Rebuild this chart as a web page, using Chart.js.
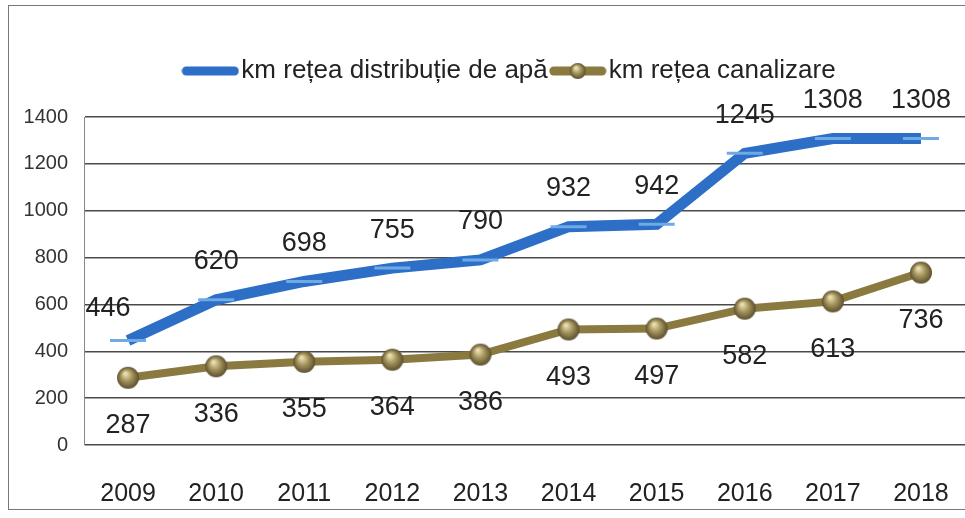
<!DOCTYPE html>
<html lang="ro">
<head>
<meta charset="UTF-8">
<title>Rețele apă și canalizare</title>
<script src="https://cdn.jsdelivr.net/npm/chart.js"></script>
<style>
    html, body { margin: 0; padding: 0; background: #fff; }
    #frame {
        position: absolute; left: 8px; top: 5px;
        width: 957px; height: 505px;
        border: 1px solid #777; border-right: none;
        box-sizing: border-box;
    }
    #chart { display: block; }
</style>
</head>
<body>
<div id="frame"><canvas id="chart" width="956" height="503"></canvas></div>
<script>
    // values
    var years = ['2009', '2010', '2011', '2012', '2013', '2014', '2015', '2016', '2017', '2018'];
    var apa = [446, 620, 698, 755, 790, 932, 942, 1245, 1308, 1308];
    var canalizare = [287, 336, 355, 364, 386, 493, 497, 582, 613, 736];
    var seriesNames = ['km rețea distribuție de apă', 'km rețea canalizare'];
    var yTicks = [0, 200, 400, 600, 800, 1000, 1200, 1400];

    var FONT = 'Liberation Sans, Arial, sans-serif';
    var BLUE = '#2d6fc6';
    var BROWN = '#8a7a40';

    // little shaded ball for the sewer series
    function drawBall(g, cx, cy, r) {
        var grad = g.createRadialGradient(cx - r * 0.25, cy - r * 0.4, 1, cx, cy, r);
        grad.addColorStop(0, '#eadfb4');
        grad.addColorStop(0.45, '#a8975f');
        grad.addColorStop(1, '#5b4f2e');
        g.fillStyle = grad;
        g.beginPath();
        g.arc(cx, cy, r, 0, Math.PI * 2);
        g.fill();
    }
    function makeBall(r) {
        var c = document.createElement('canvas');
        c.width = c.height = r * 2 + 2;
        drawBall(c.getContext('2d'), r + 1, r + 1, r);
        return c;
    }
    // legend swatches: a thick rounded line, brown one with a ball
    function makeSwatch(color, withBall) {
        var c = document.createElement('canvas');
        c.width = 58; c.height = 22;
        var g = c.getContext('2d');
        g.strokeStyle = color;
        g.lineWidth = 9;
        g.lineCap = 'round';
        g.beginPath();
        g.moveTo(5, 11); g.lineTo(53, 11);
        g.stroke();
        if (withBall) drawBall(g, 29, 11, 8);
        return c;
    }
    var ball = makeBall(11);
    var swatches = [makeSwatch(BLUE, false), makeSwatch(BROWN, true)];

    // value labels: water above, sewer below
    var valueLabels = {
        id: 'valueLabels',
        afterDatasetsDraw: function (chart) {
            var ctx = chart.ctx;
            ctx.save();
            ctx.font = '27px ' + FONT;
            ctx.fillStyle = '#222';
            ctx.textAlign = 'center';
            ctx.textBaseline = 'middle';
            chart.data.datasets.forEach(function (ds, di) {
                var meta = chart.getDatasetMeta(di);
                meta.data.forEach(function (pt, i) {
                    var dy = di === 0 ? -38 : 48;
                    var dx = (di === 0 && i === 0) ? -20 : 0;
                    if (di === 0 && i === 0) dy = -32;
                    ctx.fillText(String(ds.data[i]), pt.x + dx, pt.y + dy);
                });
            });
            ctx.restore();
        }
    };

    // legend: extra room below it, and nudged right like the original
    var legendTweak = {
        id: 'legendTweak',
        beforeInit: function (chart) {
            var fit = chart.legend.fit;
            chart.legend.fit = function () {
                fit.bind(chart.legend)();
                this.height += 23;
            };
        },
        afterLayout: function (chart) {
            chart.legend.left += 27;
            chart.legend.right += 27;
        }
    };

    new Chart(document.getElementById('chart'), {
        type: 'line',
        data: {
            labels: years,
            datasets: [{
                label: seriesNames[0],
                data: apa,
                borderColor: BLUE,
                backgroundColor: BLUE,
                borderWidth: 11,
                tension: 0,
                pointStyle: 'line',
                pointRadius: 18,
                pointBorderColor: '#6fa9e6',
                pointBorderWidth: 3,
                pointHoverRadius: 18
            }, {
                label: seriesNames[1],
                data: canalizare,
                borderColor: BROWN,
                backgroundColor: BROWN,
                borderWidth: 8,
                tension: 0,
                pointStyle: ball,
                pointRadius: 11
            }]
        },
        options: {
            responsive: false,
            animation: false,
            layout: { autoPadding: false, padding: { top: 40, left: 0, right: 0, bottom: 0 } },
            plugins: {
                tooltip: { enabled: false },
                legend: {
                    position: 'top',
                    labels: {
                        font: { family: FONT, size: 26 },
                        color: '#222',
                        usePointStyle: true,
                        pointStyleWidth: 36,
                        boxHeight: 22,
                        padding: 12,
                        generateLabels: function (chart) {
                            return chart.data.datasets.map(function (ds, i) {
                                return {
                                    text: ds.label,
                                    pointStyle: swatches[i],
                                    fillStyle: ds.borderColor,
                                    strokeStyle: ds.borderColor,
                                    lineWidth: 0,
                                    fontColor: '#222',
                                    datasetIndex: i
                                };
                            });
                        }
                    }
                }
            },
            scales: {
                x: {
                    offset: true,
                    grid: { display: false },
                    border: { display: false },
                    afterFit: function (s) {
                        s.height = 64;
                        s.paddingLeft = 0;
                        s.paddingRight = 0;
                    },
                    ticks: {
                        font: { family: FONT, size: 25 },
                        color: '#222',
                        padding: 26,
                        maxRotation: 0
                    }
                },
                y: {
                    min: 0,
                    max: 1400,
                    afterBuildTicks: function (s) {
                        s.ticks = yTicks.map(function (v) { return { value: v }; });
                    },
                    afterFit: function (s) { s.width = 75; },
                    grid: { color: '#4a4a4a', lineWidth: 1.4, drawTicks: false },
                    border: { display: true, color: '#888' },
                    ticks: {
                        font: { family: FONT, size: 20 },
                        color: '#333',
                        padding: 16,
                        callback: function (v) { return String(v); }
                    }
                }
            }
        },
        plugins: [valueLabels, legendTweak]
    });
</script>
</body>
</html>
